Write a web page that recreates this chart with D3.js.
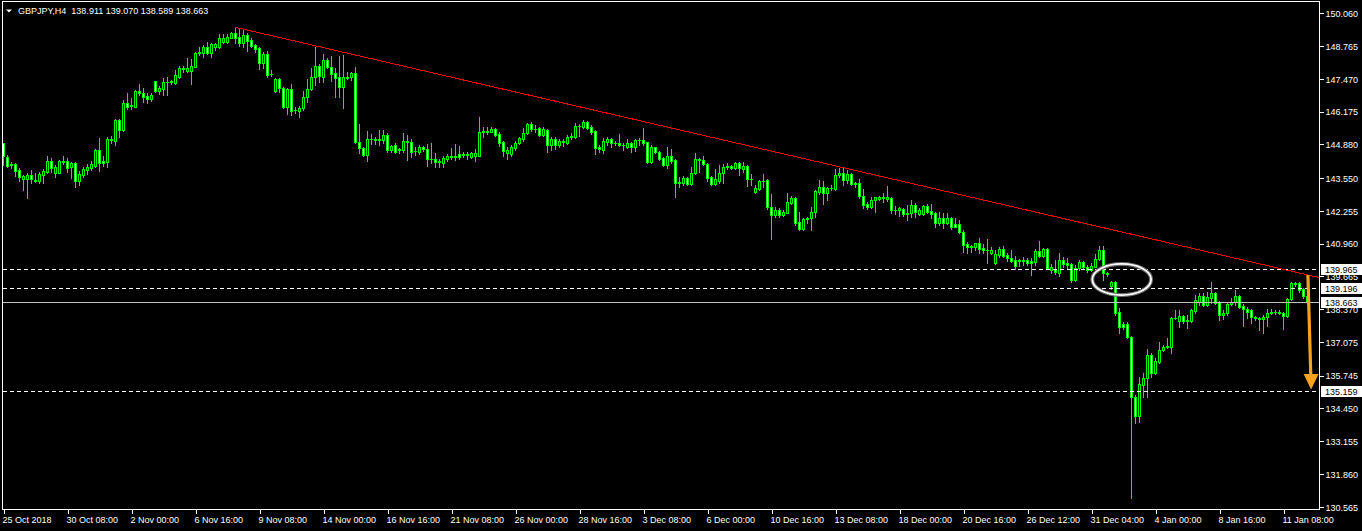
<!DOCTYPE html>
<html><head><meta charset="utf-8">
<script src="https://cdn.jsdelivr.net/npm/d3@7"></script>
<style>html,body{margin:0;padding:0;background:#000;overflow:hidden}</style>
</head><body>
<svg id="c" width="1362" height="531"></svg>
<script>
const symbol = "GBPJPY", timeframe = "H4";
const opens = [
144.92,144.37,144.11,144.11,143.87,143.50,143.50,143.67,143.48,143.44,
143.69,143.81,144.23,143.77,143.77,144.21,144.23,143.98,144.16,143.45,
143.67,143.87,143.96,144.04,144.66,144.23,144.20,145.07,145.03,145.85,
145.45,146.50,146.43,146.37,146.99,146.90,146.79,146.68,147.39,146.99,
147.07,147.33,147.35,147.29,147.56,147.91,147.78,147.78,147.95,148.49,
148.48,148.72,148.51,148.74,148.74,148.94,148.94,149.10,149.27,149.11,
148.90,149.20,149.01,148.81,148.68,148.11,148.45,147.68,146.99,147.45,
147.10,146.35,147.07,146.25,146.21,146.31,146.74,147.06,147.53,147.98,
147.56,148.22,147.95,147.69,147.53,147.16,147.53,147.53,147.69,144.99,
144.73,144.46,145.08,145.10,145.07,145.06,145.24,144.66,144.85,144.69,
144.66,145.00,144.99,144.62,144.60,144.79,144.69,144.29,144.31,144.17,
144.16,144.29,144.42,144.39,144.49,144.48,144.50,144.37,144.42,144.44,
145.39,145.40,145.39,145.48,145.29,144.96,144.53,144.50,144.73,144.93,
145.08,145.32,145.69,145.49,145.52,145.25,145.45,144.86,145.10,144.86,
145.03,144.93,145.19,145.16,145.61,145.58,145.78,145.56,145.41,144.79,
144.66,144.99,145.10,144.93,144.95,144.86,144.79,144.95,144.77,145.06,
145.04,144.96,144.20,144.77,144.60,144.33,144.07,144.42,144.27,143.37,
143.37,143.54,143.32,143.74,144.29,144.27,144.11,143.58,143.32,143.45,
143.74,143.98,144.02,143.94,144.14,143.90,144.03,143.50,143.02,143.11,
143.45,143.48,142.42,142.09,142.29,142.09,142.19,142.58,142.75,141.80,
141.54,141.92,141.96,142.23,143.02,143.19,142.98,143.15,143.12,143.67,
143.77,143.48,143.71,143.32,143.35,142.86,142.53,142.40,142.69,142.71,
142.81,142.71,142.75,142.27,142.29,142.32,142.13,142.16,142.49,142.13,
142.13,142.45,142.25,142.16,141.79,141.96,141.79,141.96,141.74,141.73,
141.44,140.95,140.82,140.84,140.98,140.78,140.69,140.61,140.21,140.51,
140.75,140.51,140.41,140.32,140.28,140.30,140.32,140.29,140.25,140.67,
140.47,140.75,139.92,139.95,139.82,140.32,140.19,140.16,139.53,139.99,
140.22,140.05,139.90,140.05,140.34,140.71,139.79,139.29,139.46,138.28,
137.79,137.78,137.29,134.92,134.16,135.38,135.64,136.56,135.87,136.30,
136.74,136.89,136.89,138.01,137.92,138.11,137.92,137.92,138.30,138.67,
138.89,138.54,138.80,139.03,138.67,138.14,138.21,138.58,138.67,138.89,
138.50,138.37,138.32,138.05,138.03,137.97,138.08,138.21,138.25,138.26,
138.24,138.11,138.76,139.36,139.42,139.16,138.911];
const highs = [
144.95,144.46,144.20,144.16,143.94,143.67,143.77,143.87,143.74,143.81,
143.90,144.42,144.35,144.07,144.27,144.42,144.33,144.20,144.20,143.84,
144.00,144.11,144.23,144.69,145.15,144.42,145.16,145.21,145.87,145.87,
146.64,146.93,146.70,147.03,147.27,147.10,146.90,146.90,147.40,147.20,
147.49,147.56,147.43,147.82,147.98,147.98,148.28,148.24,148.54,148.74,
148.81,148.91,148.87,148.90,149.24,149.24,149.24,149.33,149.51,149.43,
149.40,149.27,149.07,148.85,148.72,148.54,148.58,147.82,147.49,147.49,
147.16,147.10,147.27,146.37,146.40,147.00,147.47,147.89,148.74,148.06,
148.45,148.28,148.37,147.89,148.37,148.41,147.75,147.75,147.95,145.69,
144.79,145.41,145.29,145.19,145.45,145.45,145.35,144.86,144.95,144.75,
145.35,145.25,145.08,144.79,144.86,144.82,144.90,144.93,144.53,144.29,
144.42,144.50,144.73,144.90,144.82,144.60,144.57,144.57,144.70,145.95,
145.56,145.56,145.56,145.54,145.39,145.03,144.77,144.86,145.03,145.19,
145.52,145.71,145.78,145.65,145.58,145.56,145.49,145.16,145.19,145.08,
145.08,145.25,145.35,145.74,145.69,145.85,145.82,145.65,145.45,144.86,
145.12,145.16,145.12,145.03,145.29,144.93,145.08,144.99,145.08,145.12,
145.52,144.99,144.86,144.79,144.64,144.37,144.77,144.69,144.29,143.58,
143.63,143.61,144.00,144.53,144.33,144.42,144.16,143.63,143.90,144.07,
144.11,144.16,144.07,144.20,144.17,144.20,144.07,143.71,143.28,143.48,
143.71,143.50,142.92,142.40,142.36,142.29,142.95,142.84,142.82,142.23,
141.96,142.00,142.40,143.08,143.48,143.45,143.19,143.28,143.90,143.94,
143.94,143.87,143.77,143.41,143.50,143.11,142.62,142.79,142.82,142.84,
142.95,143.24,142.79,142.45,142.42,142.36,142.49,142.69,142.56,142.36,
142.49,142.53,142.53,142.23,142.23,142.16,142.16,142.03,141.96,141.90,
141.50,141.04,140.91,141.00,141.17,140.95,141.13,140.82,140.71,140.82,
140.87,140.61,140.69,140.47,140.34,140.42,140.38,140.38,140.74,141.08,
140.78,140.78,140.15,140.32,140.61,140.42,140.38,140.19,140.12,140.32,
140.29,140.12,140.21,140.55,140.87,140.87,139.83,139.50,139.50,138.41,
137.88,137.88,137.32,134.98,135.68,135.84,136.79,136.63,136.43,137.09,
136.96,137.22,138.05,138.32,138.32,138.14,138.14,138.37,138.93,139.03,
139.00,139.07,139.46,139.07,138.71,138.34,138.67,138.80,139.11,138.93,
138.58,138.47,138.37,138.11,138.08,138.14,138.37,138.37,138.34,138.34,
138.28,138.80,139.46,139.46,139.46,139.20,139.070];
const lows = [
144.07,144.00,143.94,143.63,143.44,143.06,142.75,143.37,143.38,143.34,
143.34,143.77,143.78,143.61,143.74,144.11,143.81,143.54,143.21,143.28,
143.61,143.71,143.87,144.00,143.84,144.04,144.00,144.92,144.86,145.19,
145.41,146.27,146.27,146.35,146.83,146.57,146.50,146.61,146.97,146.87,
146.83,146.83,147.27,147.27,147.49,147.75,147.73,147.27,147.94,148.41,
148.32,148.44,148.35,148.61,148.68,148.90,148.87,149.07,148.90,148.77,
148.74,148.58,148.74,148.52,147.86,147.89,147.56,147.58,146.97,146.97,
146.31,146.08,146.04,146.11,145.98,146.24,146.57,147.03,147.22,147.36,
147.36,147.89,147.40,146.77,146.77,146.31,147.45,147.43,144.92,144.56,
144.42,144.24,144.90,144.90,144.86,144.92,144.60,144.60,144.53,144.53,
144.60,144.27,144.40,144.46,144.50,144.64,144.03,144.14,144.00,144.00,
144.00,144.24,144.29,144.27,144.29,144.40,144.29,144.33,144.23,144.42,
145.16,145.29,145.36,145.21,144.82,144.42,144.31,144.42,144.66,144.89,
145.03,145.29,145.43,145.39,145.21,145.23,144.60,144.66,144.70,144.77,
144.83,144.89,145.08,145.15,145.21,145.52,145.48,145.29,144.50,144.60,
144.56,144.86,144.79,144.86,144.82,144.66,144.73,144.60,144.64,144.86,
144.86,144.16,144.16,144.53,144.27,144.03,143.94,144.16,142.82,143.19,
143.28,143.28,143.28,143.71,143.81,144.07,143.45,143.28,143.28,143.37,
143.37,143.90,143.90,143.90,143.67,143.81,143.24,143.28,142.95,143.08,
143.21,142.32,141.15,142.00,142.03,142.06,142.16,142.53,141.70,141.50,
141.48,141.79,141.50,142.00,142.92,142.53,142.69,143.06,143.08,143.61,
143.28,143.35,143.28,143.21,142.75,142.36,142.32,142.36,142.23,142.69,
142.62,142.66,142.19,142.13,142.05,142.05,141.90,142.03,142.03,142.09,
142.09,142.16,141.96,141.61,141.70,141.57,141.74,141.53,141.61,141.37,
140.65,140.58,140.65,140.71,140.58,140.61,140.21,140.55,140.16,140.45,
140.42,140.29,140.25,139.95,140.08,140.12,140.12,139.72,140.12,140.42,
140.42,139.95,139.82,139.76,139.69,140.05,139.99,139.46,139.50,139.92,
139.95,139.86,139.88,140.03,140.32,139.53,139.70,139.16,138.14,137.42,
137.58,137.22,130.90,133.87,133.93,134.92,134.92,135.71,135.81,136.26,
136.70,136.83,136.63,137.97,137.66,137.82,137.62,137.88,138.24,138.54,
138.50,138.51,138.61,138.58,137.95,137.97,138.14,138.54,138.54,138.41,
137.71,138.01,137.84,137.95,137.55,137.42,137.71,138.18,138.18,138.18,
137.58,138.08,138.74,139.29,139.07,138.80,138.589];
const closes = [
144.42,144.04,144.08,143.84,143.61,143.63,143.67,143.53,143.45,143.71,
143.83,144.23,143.96,143.98,144.23,144.19,143.96,144.13,143.45,143.71,
143.91,144.00,144.11,144.66,144.16,144.16,145.10,145.10,145.85,145.45,
146.50,146.35,146.40,146.99,146.90,146.74,146.68,146.83,146.99,147.12,
147.35,147.36,147.37,147.62,147.89,147.85,147.91,147.98,148.49,148.52,
148.72,148.48,148.85,148.85,149.08,149.07,149.11,149.27,149.10,148.90,
149.20,148.98,148.78,148.65,148.11,148.45,147.62,147.65,147.45,147.10,
146.35,147.07,146.21,146.23,146.32,146.74,147.06,147.53,147.98,147.58,
148.22,147.95,147.66,147.52,147.16,147.53,147.50,147.69,144.99,144.73,
144.46,145.08,145.10,145.07,145.08,145.24,144.66,144.82,144.60,144.65,
145.02,144.98,144.60,144.64,144.79,144.69,144.29,144.32,144.20,144.23,
144.36,144.42,144.39,144.41,144.37,144.50,144.45,144.53,144.56,145.39,
145.40,145.37,145.50,145.25,144.95,144.64,144.66,144.79,144.93,145.15,
145.32,145.69,145.49,145.48,145.25,145.48,144.86,145.10,144.86,145.03,
144.96,145.19,145.21,145.61,145.62,145.78,145.52,145.39,144.75,144.69,
145.02,145.10,144.93,144.95,144.86,144.85,144.95,144.79,145.06,145.04,
144.95,144.20,144.77,144.60,144.29,144.07,144.42,144.24,143.37,143.38,
143.54,143.32,143.74,144.29,144.28,144.11,143.57,143.32,143.50,143.74,
143.98,144.02,143.94,144.14,143.94,144.03,143.50,143.50,143.15,143.45,
143.44,142.40,142.09,142.29,142.09,142.23,142.59,142.75,141.79,141.54,
141.92,141.96,142.23,143.04,143.19,142.98,143.15,143.16,143.67,143.77,
143.48,143.71,143.32,143.36,142.86,142.49,142.42,142.69,142.79,142.81,
142.78,142.82,142.27,142.30,142.36,142.13,142.19,142.49,142.23,142.27,
142.45,142.23,142.13,141.79,141.96,141.79,141.96,141.63,141.63,141.44,
140.91,140.82,140.86,140.98,140.75,140.69,140.70,140.71,140.55,140.75,
140.47,140.38,140.29,140.08,140.30,140.29,140.21,140.21,140.67,140.47,
140.75,140.01,140.03,139.86,140.32,140.16,140.12,139.53,139.99,140.22,
140.05,139.90,140.09,140.34,140.71,139.79,139.76,139.46,138.24,137.68,
137.68,137.26,134.89,134.16,135.42,135.67,136.56,135.87,136.34,136.76,
136.89,136.91,138.01,138.04,138.11,137.92,137.95,138.34,138.74,138.89,
138.54,138.84,139.03,138.63,138.14,138.21,138.58,138.66,138.89,138.47,
138.37,138.28,138.05,138.03,137.99,138.08,138.21,138.25,138.26,138.24,
138.11,138.76,139.42,139.41,139.13,138.91,138.663];

const xTickLabels = ["25 Oct 2018","30 Oct 08:00","2 Nov 00:00","6 Nov 16:00","9 Nov 08:00","14 Nov 00:00",
  "16 Nov 16:00","21 Nov 08:00","26 Nov 00:00","28 Nov 16:00","3 Dec 08:00","6 Dec 00:00","10 Dec 16:00",
  "13 Dec 08:00","18 Dec 00:00","20 Dec 16:00","26 Dec 12:00","31 Dec 04:00","4 Jan 00:00","8 Jan 16:00","11 Jan 08:00"];
const xTickBars = [0,16,32,48,64,80,96,112,128,144,160,176,192,208,224,240,256,272,288,304,320];
const yTickValues = [150.060,148.765,147.470,146.175,144.880,143.550,142.255,140.960,139.665,138.370,137.075,135.745,134.450,133.155,131.860,130.565];
const dashedLevels = [139.965,139.196,135.159];
const bidPrice = 138.663;
const markedPrices = [139.965,139.196,138.663,135.159];
const trendBars = [58,329.2], trendPrices = [149.505,139.61];
const ellipseBars = [272.2,286.9], ellipsePrices = [140.16,138.93];
const arrowBars = [326.1,326.9], arrowPrices = [139.72,135.20];

const W = 1362, H = 531;
const FONT = "'Liberation Sans', Arial, sans-serif";
const svg = d3.select("#c");
svg.append("rect").attr("width", W).attr("height", H).attr("fill", "#000");
svg.append("defs").append("clipPath").attr("id", "plot")
  .append("rect").attr("x", 3).attr("y", 2).attr("width", 1316).attr("height", 507);

const N = opens.length;
const x = d3.scaleLinear().domain([0, N - 1]).range([3.5, 3.5 + 4 * (N - 1)]);
const y = d3.scaleLinear().domain([130.565, 150.060]).range([506.8, 13.3]);
const sy = v => Math.round(y(v)) + 0.5;

const plot = svg.append("g").attr("clip-path", "url(#plot)");

// candles
const data = d3.range(N).map(i => ({i, o: opens[i], h: highs[i], l: lows[i], c: closes[i]}));
const cg = plot.append("g").attr("shape-rendering", "crispEdges");
cg.selectAll("line.wick").data(data).join("line").attr("class", "wick")
  .attr("x1", d => x(d.i)).attr("x2", d => x(d.i))
  .attr("y1", d => Math.round(y(d.h))).attr("y2", d => Math.round(y(d.l)) + 1)
  .attr("stroke", "#00ff00");
data.forEach(d => {
  const top = Math.round(y(Math.max(d.o, d.c)));
  const bot = Math.round(y(Math.min(d.o, d.c)));
  if (bot - top < 1) {
    cg.append("line").attr("x1", x(d.i) - 1.5).attr("x2", x(d.i) + 1.5)
      .attr("y1", top + 0.5).attr("y2", top + 0.5).attr("stroke", "#00ff00");
  } else {
    cg.append("rect").attr("x", x(d.i) - 1).attr("y", top + 0.5)
      .attr("width", 2).attr("height", bot - top)
      .attr("fill", d.c >= d.o ? "#000" : "#fff").attr("stroke", "#00ff00");
  }
});

// horizontal levels
plot.selectAll("line.lvl").data(dashedLevels).join("line").attr("class", "lvl")
  .attr("x1", 3).attr("x2", 1319).attr("y1", d => sy(d)).attr("y2", d => sy(d))
  .attr("stroke", "#fff").attr("stroke-dasharray", "4,3").attr("shape-rendering", "crispEdges");
plot.append("line").attr("x1", 3).attr("x2", 1319).attr("y1", sy(bidPrice)).attr("y2", sy(bidPrice))
  .attr("stroke", "#c0c0c0").attr("shape-rendering", "crispEdges");

// trend line
plot.append("line")
  .attr("x1", x(trendBars[0])).attr("y1", y(trendPrices[0]))
  .attr("x2", x(trendBars[1])).attr("y2", y(trendPrices[1]))
  .attr("stroke", "#ff0000").attr("stroke-width", 1).attr("shape-rendering", "crispEdges");

// ellipse
const ecx = (x(ellipseBars[0]) + x(ellipseBars[1])) / 2, ecy = (y(ellipsePrices[0]) + y(ellipsePrices[1])) / 2;
const erx = Math.abs(x(ellipseBars[1]) - x(ellipseBars[0])) / 2, ery = Math.abs(y(ellipsePrices[1]) - y(ellipsePrices[0])) / 2;
plot.append("ellipse").attr("cx", ecx).attr("cy", ecy).attr("rx", erx).attr("ry", ery)
  .attr("fill", "none").attr("stroke", "#6a6a6a").attr("stroke-width", 4);
plot.append("ellipse").attr("cx", ecx).attr("cy", ecy).attr("rx", erx).attr("ry", ery)
  .attr("fill", "none").attr("stroke", "#fff").attr("stroke-width", 1.8);

// arrow
const ax0 = x(arrowBars[0]), ay0 = y(arrowPrices[0]), ax1 = x(arrowBars[1]), ay1 = y(arrowPrices[1]);
const ORANGE = "#f7a21c";
plot.append("line").attr("x1", ax0).attr("y1", ay0).attr("x2", ax1 - 0.3).attr("y2", ay1 - 14)
  .attr("stroke", ORANGE).attr("stroke-width", 3.2);
plot.append("polygon")
  .attr("points", [[ax1 - 7.5, ay1 - 15.5], [ax1 + 7.5, ay1 - 15.5], [ax1, ay1]].map(p => p.join(",")).join(" "))
  .attr("fill", ORANGE);

// frame
svg.append("rect").attr("x", 2.5).attr("y", 1.5).attr("width", 1317).attr("height", 508)
  .attr("fill", "none").attr("stroke", "#fff").attr("shape-rendering", "crispEdges");

// right axis
const yAxis = svg.append("g").attr("transform", "translate(1319.5,0)")
  .call(d3.axisRight(y).tickValues(yTickValues).tickSize(4).tickPadding(2).tickFormat(d => d.toFixed(3)));
yAxis.select(".domain").remove();
yAxis.selectAll("line").attr("stroke", "#fff").attr("shape-rendering", "crispEdges");
yAxis.selectAll("text").attr("fill", "#fff").attr("font-family", FONT).attr("font-size", 9).attr("dy", "0.36em");

// bottom axis
const xAxis = svg.append("g").attr("transform", "translate(0,509.5)")
  .call(d3.axisBottom(x).tickValues(xTickBars).tickSize(4).tickFormat((d, i) => xTickLabels[i]));
xAxis.select(".domain").remove();
xAxis.selectAll("line").attr("stroke", "#fff").attr("shape-rendering", "crispEdges");
xAxis.selectAll("text").attr("fill", "#fff").attr("font-family", FONT).attr("font-size", 9)
  .attr("text-anchor", "start").attr("x", -1.5).attr("y", 13.5).attr("dy", null);

// marked price labels
const mk = svg.append("g");
markedPrices.forEach(p => {
  const yy = Math.round(y(p));
  mk.append("rect").attr("x", 1321).attr("y", yy - 5).attr("width", 41).attr("height", 11).attr("fill", "#fff");
  mk.append("text").attr("x", 1325).attr("y", yy + 3.5).attr("font-family", FONT).attr("font-size", 9)
    .attr("fill", "#000").text(p.toFixed(3));
});

// title
svg.append("polygon").attr("points", "6,9.5 12,9.5 9,12.5").attr("fill", "#fff");
const last = N - 1;
svg.append("text").attr("x", 18).attr("y", 14).attr("font-family", FONT).attr("font-size", 9)
  .attr("fill", "#fff").style("white-space", "pre")
  .text(`${symbol},${timeframe}  ${opens[last].toFixed(3)} ${highs[last].toFixed(3)} ${lows[last].toFixed(3)} ${closes[last].toFixed(3)}`);
</script>
</body></html>
